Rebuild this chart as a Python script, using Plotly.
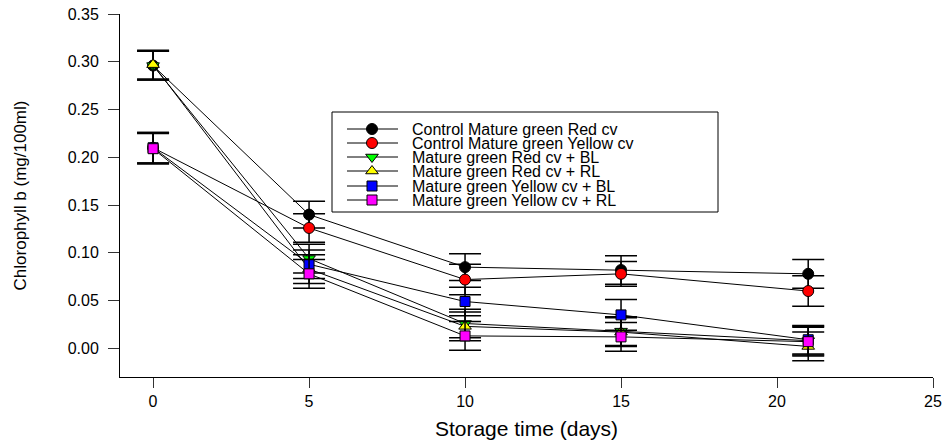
import plotly.graph_objects as go

# Storage days and chlorophyll b content (mg/100ml) with standard errors
days = [0, 5, 10, 15, 21]

series_names = [
    "Control Mature green Red cv",
    "Control Mature green Yellow cv",
    "Mature green Red cv + BL",
    "Mature green Red cv + RL",
    "Mature green Yellow cv + BL",
    "Mature green Yellow cv + RL",
]

ctrl_red = [0.296, 0.140, 0.085, 0.082, 0.078]
ctrl_yellow = [0.210, 0.126, 0.072, 0.078, 0.060]
red_bl = [0.296, 0.094, 0.026, 0.018, 0.008]
red_rl = [0.297, 0.083, 0.023, 0.017, 0.002]
yellow_bl = [0.210, 0.088, 0.049, 0.035, 0.009]
yellow_rl = [0.209, 0.078, 0.013, 0.012, 0.007]

err_ctrl_red = [0.015, 0.014, 0.014, 0.015, 0.015]
err_ctrl_yellow = [0.016, 0.015, 0.016, 0.013, 0.016]
err_red_bl = [0.015, 0.015, 0.015, 0.015, 0.015]
err_red_rl = [0.015, 0.015, 0.015, 0.015, 0.015]
err_yellow_bl = [0.016, 0.015, 0.015, 0.016, 0.015]
err_yellow_rl = [0.016, 0.015, 0.015, 0.015, 0.015]

x_ticks = [0, 5, 10, 15, 20, 25]
y_ticks = [0.00, 0.05, 0.10, 0.15, 0.20, 0.25, 0.30, 0.35]

values = [ctrl_red, ctrl_yellow, red_bl, red_rl, yellow_bl, yellow_rl]
errors = [err_ctrl_red, err_ctrl_yellow, err_red_bl, err_red_rl, err_yellow_bl, err_yellow_rl]
colors = ["#000000", "#ff0000", "#00ff00", "#ffff00", "#0000ff", "#ff00ff"]
symbols = ["circle", "circle", "triangle-down", "triangle-up", "square", "square"]
sizes = [11, 11, 11, 11, 10, 10]

FONT = "Liberation Sans, Arial, sans-serif"

fig = go.Figure()

for name, y, e, c, s, sz in zip(series_names, values, errors, colors, symbols, sizes):
    fig.add_trace(go.Scatter(
        x=days, y=y, name=name, mode="lines+markers",
        line=dict(color="black", width=1),
        marker=dict(symbol=s, size=sz, color=c, line=dict(color="black", width=1)),
        error_y=dict(type="data", array=e, visible=True, color="black",
                     thickness=1.5, width=16),
        showlegend=False,
    ))

# Plot area in pixels (used to place the hand-built legend box)
L, R, T, B = 120, 933, 14, 377
W, H = 948, 444


def px_x(p):
    return (p - L) / (R - L)


def px_y(p):
    return (B - p) / (B - T)


box = dict(x0=332, x1=718, y0=112, y1=212)
row_y = [129, 143, 157, 171, 186, 200]

shapes = [dict(type="rect", xref="paper", yref="paper",
               x0=px_x(box["x0"]), x1=px_x(box["x1"]),
               y0=px_y(box["y1"]), y1=px_y(box["y0"]),
               line=dict(color="black", width=1), fillcolor="white", layer="below")]
annotations = []
for ry, name in zip(row_y, series_names):
    shapes.append(dict(type="line", xref="paper", yref="paper",
                       x0=px_x(347), x1=px_x(398), y0=px_y(ry), y1=px_y(ry),
                       line=dict(color="black", width=1), layer="below"))
    annotations.append(dict(text=name, xref="paper", yref="paper",
                            x=px_x(410), y=px_y(ry), xanchor="left", yanchor="middle",
                            showarrow=False, font=dict(family=FONT, size=16, color="black")))

# Legend sample markers on a pixel-scaled overlay axis
fig.add_trace(go.Scatter(
    x=[372] * len(row_y), y=row_y, mode="markers", xaxis="x2", yaxis="y2",
    opacity=1,
    marker=dict(symbol=symbols, size=sizes, color=colors, opacity=1,
                line=dict(color="black", width=1)),
    showlegend=False, hoverinfo="skip",
))

fig.update_layout(
    width=W, height=H,
    margin=dict(l=L, r=W - R, t=T, b=H - B, autoexpand=False),
    paper_bgcolor="white", plot_bgcolor="white",
    font=dict(family=FONT, color="black"),
    shapes=shapes, annotations=annotations,
    xaxis=dict(range=[-1.06, 25], tickvals=x_ticks, ticktext=[str(v) for v in x_ticks],
               showline=True, linecolor="black", linewidth=1, showgrid=False, zeroline=False,
               ticks="outside", ticklen=10, tickcolor="#333333", tickwidth=1,
               tickfont=dict(size=16), ticklabelstandoff=0, automargin=False,
               title=dict(text="Storage time (days)", font=dict(size=21), standoff=12)),
    yaxis=dict(range=[-0.03, 0.35], tickvals=y_ticks, ticktext=[f"{v:.2f}" for v in y_ticks],
               showline=True, linecolor="black", linewidth=1, showgrid=False, zeroline=False,
               ticks="outside", ticklen=11, tickcolor="#333333", tickwidth=1,
               tickfont=dict(size=16), ticklabelstandoff=6, automargin=False,
               title=dict(text="Chlorophyll b (mg/100ml)", font=dict(size=17), standoff=36)),
    xaxis2=dict(range=[L, R], overlaying="x", anchor="y2", visible=False, fixedrange=True),
    yaxis2=dict(range=[B, T], overlaying="y", anchor="x2", visible=False, fixedrange=True),
)

fig.write_html("out.html")
